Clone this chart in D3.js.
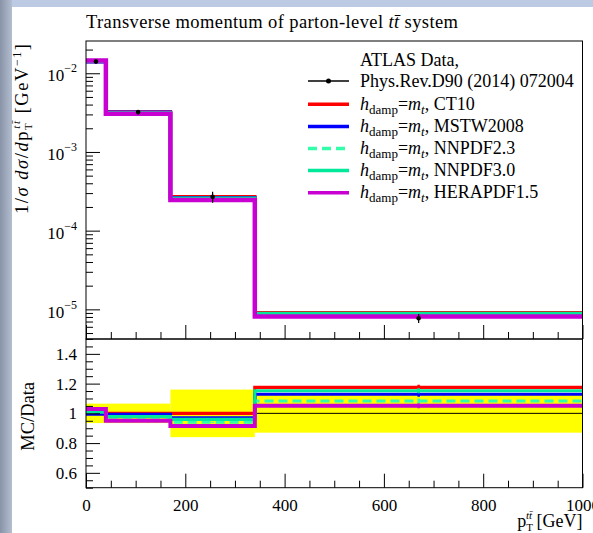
<!DOCTYPE html>
<html>
<head>
<meta charset="utf-8">
<script src="https://cdn.jsdelivr.net/npm/d3@7"></script>
<style>
  html, body { margin: 0; padding: 0; background: #ffffff; }
  svg { display: block; }
  text { font-family: "Liberation Serif", "DejaVu Serif", serif; fill: #000; }
</style>
</head>
<body>
<script>
// ---- data ----------------------------------------------------------------
const binEdges   = [0, 40, 170, 340, 1000];           // pT(ttbar) bin edges [GeV]
const binCenters = [20, 105, 255, 670];               // where the data points sit
const dataValues = [0.0141, 0.00321, 0.000269, 7.7e-6];   // ATLAS 1/sigma dsigma/dpT
const dataErrors = [0.00092, 0.00021, 0.000043, 1.0e-6];  // total uncertainty

const seriesNames = ["CT10", "MSTW2008", "NNPDF2.3", "NNPDF3.0", "HERAPDF1.5"];
const ct10Values     = [0.0141,  0.00321,  0.000269,  9.05e-6];
const mstwValues     = [0.01403, 0.003188, 0.000261,  8.69e-6];
const nnpdf23Values  = [0.01424, 0.00313,  0.000253,  8.34e-6];
const nnpdf30Values  = [0.01424, 0.00314,  0.000258,  8.87e-6];
const herapdfValues  = [0.01452, 0.00305,  0.000246,  8.09e-6];
const mcStatRel      = [0.002, 0.002, 0.004, 0.015];   // MC statistical error (relative)

const seriesColors = ["#ff0000", "#0000ff", "#33ffaa", "#00e899", "#c800d2"];
const seriesDash   = [null, null, "9,5", null, null];

const upperMajorTicks = [1e-5, 1e-4, 1e-3, 1e-2];
const upperTickExp    = ["−5", "−4", "−3", "−2"];
const ratioMajorTicks = [0.6, 0.8, 1, 1.2, 1.4];
const ratioTickLabels = ["0.6", "0.8", "1", "1.2", "1.4"];
const xMajorTicks     = [0, 200, 400, 600, 800, 1000];
const xTickLabels     = ["0", "200", "400", "600", "800", "1000"];

// ---- layout --------------------------------------------------------------
const W = 593, H = 533;
const L = 86, R = 582.5, T = 41, MID = 339, B = 487.7;

const svg = d3.select("body").append("svg").attr("width", W).attr("height", H);

// window-like backdrop around the canvas
const defs = svg.append("defs");
const g1 = defs.append("linearGradient").attr("id", "sideGrad").attr("x1", 0).attr("x2", 1).attr("y1", 0).attr("y2", 0);
g1.append("stop").attr("offset", "0%").attr("stop-color", "#8893a8");
g1.append("stop").attr("offset", "100%").attr("stop-color", "#b3bed0");
svg.append("rect").attr("width", W).attr("height", 7).attr("fill", "#bccbe3");
svg.append("rect").attr("width", 12).attr("height", H).attr("fill", "url(#sideGrad)");
svg.append("rect").attr("x", 12).attr("y", 7).attr("width", W - 12).attr("height", H - 7).attr("fill", "#ffffff");

defs.append("clipPath").attr("id", "clipUpper").append("rect")
  .attr("x", L).attr("y", T).attr("width", R - L).attr("height", MID - T);
defs.append("clipPath").attr("id", "clipRatio").append("rect")
  .attr("x", L).attr("y", MID).attr("width", R - L).attr("height", B - MID);

// ---- scales --------------------------------------------------------------
const x = d3.scaleLinear().domain([0, 1000]).range([L, R]);
const y = d3.scaleLog().domain([4.2e-6, 0.0257]).range([MID, T]);
const yr = d3.scaleLinear().domain([0.5, 1.5]).range([B, MID]);

const allSeries = [ct10Values, mstwValues, nnpdf23Values, nnpdf30Values, herapdfValues];
const ratioSeries = allSeries.map(vals => vals.map((v, i) => v / dataValues[i]));

function stepPoints(vals) {
  const pts = vals.map((v, i) => [binEdges[i], v]);
  pts.push([binEdges[binEdges.length - 1], vals[vals.length - 1]]);
  return pts;
}

// ---- upper panel ---------------------------------------------------------
const upper = svg.append("g").attr("clip-path", "url(#clipUpper)");
const lineU = d3.line().x(d => x(d[0])).y(d => y(d[1])).curve(d3.curveStepAfter);

allSeries.forEach((vals, s) => {
  upper.append("path").attr("d", lineU(stepPoints(vals)))
    .attr("fill", "none").attr("stroke", seriesColors[s])
    .attr("stroke-width", s === 4 ? 4.5 : 3.5)
    .attr("stroke-dasharray", seriesDash[s]);
});

const dataG = upper.append("g");
dataValues.forEach((v, i) => {
  dataG.append("line").attr("x1", x(binCenters[i])).attr("x2", x(binCenters[i]))
    .attr("y1", y(v - dataErrors[i])).attr("y2", y(v + dataErrors[i]))
    .attr("stroke", "#000").attr("stroke-width", 1.2);
  dataG.append("circle").attr("cx", x(binCenters[i])).attr("cy", y(v)).attr("r", 2.3).attr("fill", "#000");
});

// upper y axis: minor and major ticks
const upperMinor = [];
for (let k = -6; k <= -1; k++) for (let m = 2; m <= 9; m++) {
  const v = m * Math.pow(10, k);
  if (v > y.domain()[0] && v < y.domain()[1]) upperMinor.push(v);
}
svg.append("g").attr("transform", `translate(${L},0)`)
  .call(d3.axisLeft(y).tickValues(upperMinor).tickSize(-7).tickFormat(""))
  .call(g => g.select(".domain").remove());
const upAx = svg.append("g").attr("transform", `translate(${L},0)`)
  .call(d3.axisLeft(y).tickValues(upperMajorTicks).tickSize(-14).tickPadding(9).tickFormat(""))
  .call(g => g.select(".domain").remove());
upAx.selectAll(".tick text").each(function(d, i) {
  const t = d3.select(this).attr("font-size", 17).attr("dy", "0.45em");
  t.append("tspan").text("10");
  t.append("tspan").attr("font-size", 12).attr("dy", "-0.75em").text(upperTickExp[i]);
});

// ticks along the bottom of the upper panel
const xMinorTicks = d3.range(0, 1001, 50).filter(v => v % 200 !== 0);
svg.append("g").attr("transform", `translate(0,${MID})`)
  .call(d3.axisBottom(x).tickValues(xMinorTicks).tickSize(-7).tickFormat(""))
  .call(g => g.select(".domain").remove());
svg.append("g").attr("transform", `translate(0,${MID})`)
  .call(d3.axisBottom(x).tickValues(xMajorTicks).tickSize(-14).tickFormat(""))
  .call(g => g.select(".domain").remove());

svg.append("rect").attr("x", L).attr("y", T).attr("width", R - L).attr("height", MID - T)
  .attr("fill", "none").attr("stroke", "#000").attr("stroke-width", 1);

// ---- ratio panel ---------------------------------------------------------
const ratio = svg.append("g").attr("clip-path", "url(#clipRatio)");
dataValues.forEach((v, i) => {
  const rel = dataErrors[i] / v;
  ratio.append("rect").attr("x", x(binEdges[i])).attr("width", x(binEdges[i + 1]) - x(binEdges[i]))
    .attr("y", yr(1 + rel)).attr("height", yr(1 - rel) - yr(1 + rel)).attr("fill", "#ffff00");
});
ratio.append("line").attr("x1", L).attr("x2", R).attr("y1", yr(1)).attr("y2", yr(1))
  .attr("stroke", "#000").attr("stroke-width", 1);

const lineR = d3.line().x(d => x(d[0])).y(d => yr(d[1])).curve(d3.curveStepAfter);
ratioSeries.forEach((vals, s) => {
  ratio.append("path").attr("d", lineR(stepPoints(vals)))
    .attr("fill", "none").attr("stroke", seriesColors[s])
    .attr("stroke-width", s === 4 ? 4 : 3.2)
    .attr("stroke-dasharray", seriesDash[s]);
  vals.forEach((r, i) => {
    ratio.append("line").attr("x1", x(binCenters[i])).attr("x2", x(binCenters[i]))
      .attr("y1", yr(r * (1 - mcStatRel[i]))).attr("y2", yr(r * (1 + mcStatRel[i])))
      .attr("stroke", seriesColors[s]).attr("stroke-width", 2.5);
  });
});

const ratioMinor = d3.range(0.5, 1.5001, 0.05).map(v => +v.toFixed(2)).filter(v => !ratioMajorTicks.includes(v));
svg.append("g").attr("transform", `translate(${L},0)`)
  .call(d3.axisLeft(yr).tickValues(ratioMinor).tickSize(-7).tickFormat(""))
  .call(g => g.select(".domain").remove());
svg.append("g").attr("transform", `translate(${L},0)`)
  .call(d3.axisLeft(yr).tickValues(ratioMajorTicks).tickSize(-14).tickPadding(9)
    .tickFormat((d, i) => ratioTickLabels[i]))
  .call(g => g.select(".domain").remove())
  .call(g => g.selectAll("text").attr("font-size", 17).attr("font-family", "Liberation Serif, serif"));

svg.append("g").attr("transform", `translate(0,${B})`)
  .call(d3.axisBottom(x).tickValues(xMinorTicks).tickSize(-7).tickFormat(""))
  .call(g => g.select(".domain").remove());
svg.append("g").attr("transform", `translate(0,${B})`)
  .call(d3.axisBottom(x).tickValues(xMajorTicks).tickSize(-14).tickPadding(11)
    .tickFormat((d, i) => xTickLabels[i]))
  .call(g => g.select(".domain").remove())
  .call(g => g.selectAll("text").attr("font-size", 17).attr("font-family", "Liberation Serif, serif"));

svg.append("rect").attr("x", L).attr("y", MID).attr("width", R - L).attr("height", B - MID)
  .attr("fill", "none").attr("stroke", "#000").attr("stroke-width", 1);

svg.selectAll(".tick line").attr("stroke", "#000");

// ---- titles --------------------------------------------------------------
const title = svg.append("text").attr("x", L).attr("y", 28).attr("font-size", 18.5)
  .attr("textLength", 372).attr("lengthAdjust", "spacing");
title.append("tspan").text("Transverse momentum of parton-level ");
title.append("tspan").attr("font-style", "italic").text("tt̄");
title.append("tspan").text(" system");

const xt = svg.append("text").attr("x", R).attr("y", 527).attr("text-anchor", "end").attr("font-size", 18);
xt.append("tspan").text("p");
xt.append("tspan").attr("font-size", 11).attr("dy", 4).text("T");
xt.append("tspan").attr("font-size", 11).attr("font-style", "italic").attr("dx", -7).attr("dy", -12).text("tt̄");
xt.append("tspan").attr("dy", 8).text(" [GeV]");

const yt = svg.append("text").attr("transform", "translate(28,129) rotate(-90)")
  .attr("text-anchor", "middle").attr("font-size", 18.5)
  .attr("textLength", 170).attr("lengthAdjust", "spacing");
yt.append("tspan").text("1/");
yt.append("tspan").attr("font-style", "italic").text("σ d");
yt.append("tspan").attr("font-style", "italic").text("σ");
yt.append("tspan").text("/");
yt.append("tspan").attr("font-style", "italic").text("d");
yt.append("tspan").text("p");
yt.append("tspan").attr("font-size", 11).attr("dy", 4).text("T");
yt.append("tspan").attr("font-size", 11).attr("font-style", "italic").attr("dx", -7).attr("dy", -12).text("tt̄");
yt.append("tspan").attr("dy", 8).text(" [GeV");
yt.append("tspan").attr("font-size", 12).attr("dy", -7).text("−1");
yt.append("tspan").attr("dy", 7).text("]");

svg.append("text").attr("transform", `translate(34,${(MID + B) / 2 + 3}) rotate(-90)`)
  .attr("text-anchor", "middle").attr("font-size", 18.5).text("MC/Data");

// ---- legend --------------------------------------------------------------
const lg = svg.append("g");
const lx0 = 308, lx1 = 349, tx = 360;
lg.append("text").attr("x", tx).attr("y", 66).attr("font-size", 18).text("ATLAS Data,");
lg.append("text").attr("x", tx).attr("y", 87).attr("font-size", 18).text("Phys.Rev.D90 (2014) 072004");
lg.append("line").attr("x1", lx0).attr("x2", lx1).attr("y1", 81).attr("y2", 81)
  .attr("stroke", "#000").attr("stroke-width", 1.5);
lg.append("circle").attr("cx", (lx0 + lx1) / 2).attr("cy", 81).attr("r", 2.5).attr("fill", "#000");

seriesNames.forEach((name, s) => {
  const cy = 104.3 + s * 22.1;
  lg.append("line").attr("x1", lx0).attr("x2", lx1).attr("y1", cy).attr("y2", cy)
    .attr("stroke", seriesColors[s]).attr("stroke-width", 3.5)
    .attr("stroke-dasharray", seriesDash[s]);
  const t = lg.append("text").attr("x", tx).attr("y", cy + 5.5).attr("font-size", 18);
  t.append("tspan").attr("font-style", "italic").text("h");
  t.append("tspan").attr("font-size", 13).attr("dy", 4).text("damp");
  t.append("tspan").attr("dy", -4).text("=");
  t.append("tspan").attr("font-style", "italic").text("m");
  t.append("tspan").attr("font-style", "italic").attr("font-size", 13).attr("dy", 4).text("t");
  t.append("tspan").attr("dy", -4).text(", " + name);
});
</script>
</body>
</html>
